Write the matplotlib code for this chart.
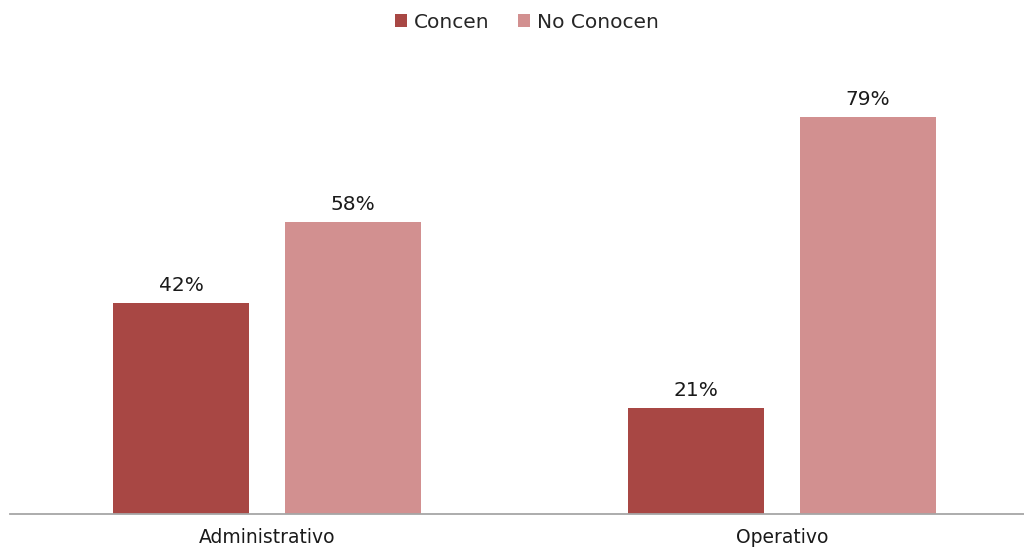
import matplotlib
matplotlib.use("Agg")
import matplotlib.pyplot as plt
import numpy as np

categories = ["Administrativo", "Operativo"]
series_names = ["Concen", "No Conocen"]
conocen = [42, 21]
no_conocen = [58, 79]
colors = ["#A84744", "#D29090"]

plt.rcParams["font.family"] = ["DejaVu Sans"]

fig = plt.figure(figsize=(10.24, 5.51), dpi=100)
ax = fig.add_axes([10 / 1024, 37 / 551, 1029 / 1024, 503 / 551])

x = np.arange(len(categories))
width = 0.2643
offset = 0.167

bars1 = ax.bar(x - offset, conocen, width, color=colors[0], label=series_names[0])
bars2 = ax.bar(x + offset, no_conocen, width, color=colors[1], label=series_names[1])

for bars, vals in ((bars1, conocen), (bars2, no_conocen)):
    for b, v in zip(bars, vals):
        ax.text(b.get_x() + b.get_width() / 2, v + 1.6, f"{v}%",
                ha="center", va="bottom", fontsize=14.5, color="#1a1a1a")

ax.set_xlim(-0.5, 1.5)
ax.set_ylim(0, 100)
ax.set_xticks(x)
ax.set_xticklabels(categories, fontsize=13.5, color="#1a1a1a")
ax.tick_params(axis="x", length=0, pad=10)
ax.set_yticks([])
for s in ("top", "right", "left"):
    ax.spines[s].set_visible(False)
ax.spines["bottom"].set_color("#A6A6A6")
ax.spines["bottom"].set_linewidth(1.3)

fig.legend(handles=[bars1, bars2], labels=series_names, loc="center",
           bbox_to_anchor=(527 / 1024, 1 - 22 / 551), ncol=2, frameon=False,
           fontsize=14.5, labelcolor="#262626", handlelength=0.6, handleheight=0.6,
           handletextpad=0.35, columnspacing=1.4)

fig.savefig("out.png", dpi=100)
